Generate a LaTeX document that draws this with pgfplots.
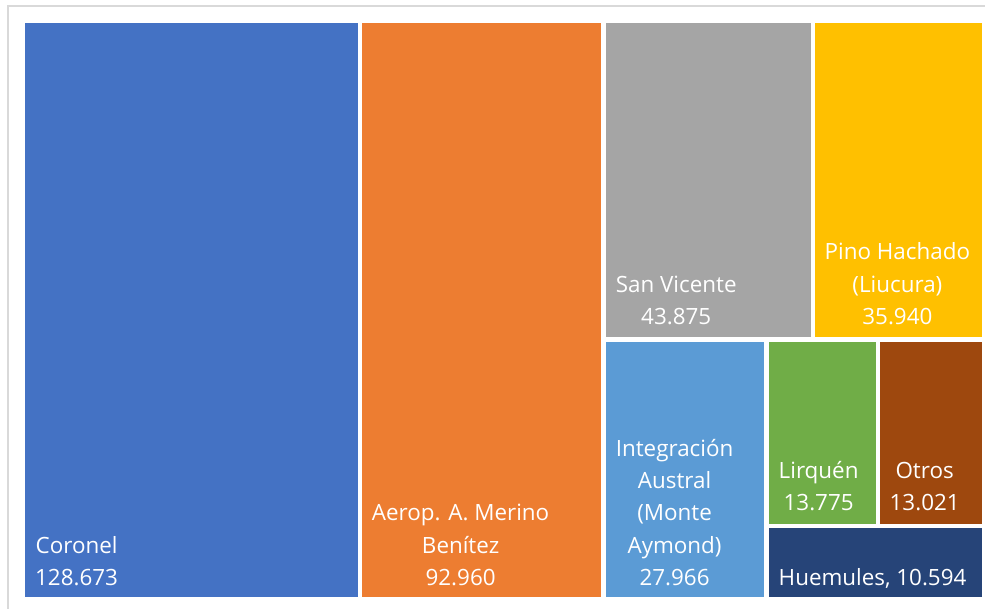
\documentclass[border=0pt]{standalone}
\usepackage{pgfplots}
\pgfplotsset{compat=1.18}
\usepackage{fontspec}
\setmainfont{Open Sans}

\definecolor{tCoronel}{HTML}{4472C4}
\definecolor{tAerop}{HTML}{ED7D31}
\definecolor{tSanVic}{HTML}{A5A5A5}
\definecolor{tPino}{HTML}{FFC000}
\definecolor{tInteg}{HTML}{5B9BD5}
\definecolor{tLirq}{HTML}{70AD47}
\definecolor{tOtros}{HTML}{9E480E}
\definecolor{tHuem}{HTML}{264478}

\tikzset{lbl/.style={anchor=south west, align=center, inner sep=0pt, text=white,
    text depth=0pt, font=\fontsize{22.5}{32.5}\selectfont}}

\begin{document}
\begin{tikzpicture}
\begin{axis}[
  width=986bp, height=609bp, scale only axis,
  xmin=0, xmax=986, ymin=0, ymax=609, y dir=reverse,
  hide axis, clip=false,
]
% frame and page
\path (axis cs:0,0) rectangle (axis cs:986,609);
\draw[black!15, line width=1.2bp] (axis cs:8,609) -- (axis cs:8,6) -- (axis cs:986,6);

% tiles (pixel rectangles, areas follow the values)
\addplot[fill=tCoronel, draw=none] coordinates {(25,23) (358,23) (358,597) (25,597)};
\addplot[fill=tAerop,   draw=none] coordinates {(362,23) (601,23) (601,597) (362,597)};
\addplot[fill=tSanVic,  draw=none] coordinates {(606,23) (811,23) (811,337) (606,337)};
\addplot[fill=tPino,    draw=none] coordinates {(815,23) (983,23) (983,337) (815,337)};
\addplot[fill=tInteg,   draw=none] coordinates {(606,342) (764,342) (764,597) (606,597)};
\addplot[fill=tLirq,    draw=none] coordinates {(769,342) (877,342) (877,524) (769,524)};
\addplot[fill=tOtros,   draw=none] coordinates {(881,342) (983,342) (983,524) (881,524)};
\addplot[fill=tHuem,    draw=none] coordinates {(769,528) (983,528) (983,597) (769,597)};

% labels
\node[lbl] at (axis cs:35,586)  {Coronel\\128.673};
\node[lbl] at (axis cs:372,586) {Aerop. A. Merino\\Benítez\\92.960};
\node[lbl] at (axis cs:616,325) {San Vicente\\43.875};
\node[lbl] at (axis cs:825,325) {Pino Hachado\\(Liucura)\\35.940};
\node[lbl] at (axis cs:616,586) {Integración\\Austral\\(Monte\\Aymond)\\27.966};
\node[lbl] at (axis cs:779,511) {Lirquén\\13.775};
\node[lbl] at (axis cs:890,511) {Otros\\13.021};
\node[lbl] at (axis cs:779,586) {Huemules, 10.594};
\end{axis}
\end{tikzpicture}
\end{document}
